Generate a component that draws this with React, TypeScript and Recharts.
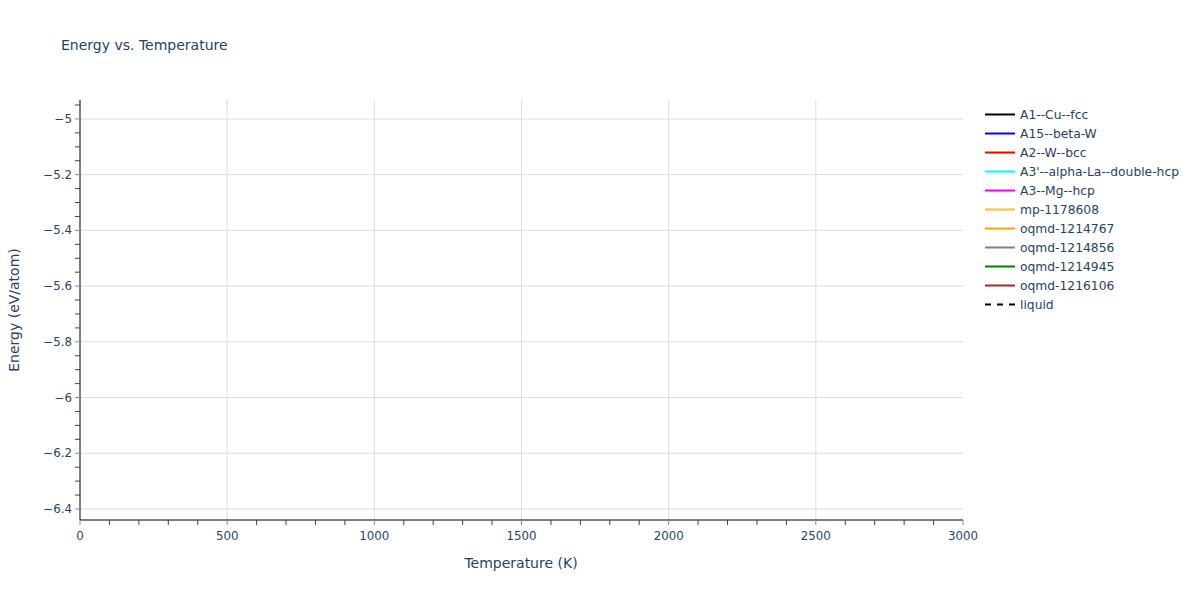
import React from 'react';
import { ComposedChart, Line, XAxis, YAxis, CartesianGrid, Legend } from 'recharts';

const seriesNames = [
  'A1--Cu--fcc',
  'A15--beta-W',
  'A2--W--bcc',
  "A3'--alpha-La--double-hcp",
  'A3--Mg--hcp',
  'mp-1178608',
  'oqmd-1214767',
  'oqmd-1214856',
  'oqmd-1214945',
  'oqmd-1216106',
  'liquid',
];
const seriesColors = [
  '#000000', '#0000ff', '#ff0000', '#00ffff', '#ff00ff', '#f0c030',
  '#ffa500', '#808080', '#008000', '#a52a2a', '#000000',
];
const seriesDashes = ['', '', '', '', '', '', '', '', '', '', '6 6'];
// No data points are visible in the reference plot
const seriesData: { T: number; E: number }[][] = seriesNames.map(() => []);

const xTicks = Array.from({ length: 31 }, (_, i) => i * 100);
const xMajor = [0, 500, 1000, 1500, 2000, 2500, 3000];
const yTicks = Array.from({ length: 30 }, (_, i) => Math.round((-6.4 + i * 0.05) * 100) / 100);
const yMajor = [-6.4, -6.2, -6, -5.8, -5.6, -5.4, -5.2, -5];
const xDomain: [number, number] = [0, 3000];
const yDomain: [number, number] = [-6.4395, -4.932];

const FONT = '"DejaVu Sans", Verdana, sans-serif';
const TXT = '#2a3f5f';

const isMajor = (arr: number[], v: number) => arr.some((m) => Math.abs(m - v) < 1e-6);
const fmt = (v: number) => (v < 0 ? '\u2212' + String(Math.abs(v)) : String(v));

const XTick = (props: any) => {
  const { x, y, payload } = props;
  const v = payload.value;
  const major = isMajor(xMajor, v);
  return (
    <g>
      <line x1={x} x2={x} y1={y} y2={y + 5} stroke={major ? '#888' : '#444'} strokeWidth={1} />
      {major && (
        <text x={x} y={y + 20} textAnchor="middle" fontSize={11.8} fontFamily={FONT} fill={TXT}>
          {fmt(v)}
        </text>
      )}
    </g>
  );
};

const YTick = (props: any) => {
  const { x, y, payload } = props;
  const v = payload.value;
  const major = isMajor(yMajor, v);
  return (
    <g>
      <line x1={x} x2={x - 5} y1={y} y2={y} stroke={major ? '#888' : '#444'} strokeWidth={1} />
      {major && (
        <text x={x - 8} y={y + 4} textAnchor="end" fontSize={11.8} fontFamily={FONT} fill={TXT}>
          {fmt(v)}
        </text>
      )}
    </g>
  );
};

const LegendContent = () => (
  <div style={{ fontFamily: FONT, fontSize: 12.3, color: TXT }}>
    {seriesNames.map((n, i) => (
      <div key={n} style={{ height: 19, display: 'flex', alignItems: 'center', whiteSpace: 'nowrap' }}>
        <svg width={36} height={19} style={{ display: 'block' }}>
          <line
            x1={1}
            x2={31}
            y1={9.5}
            y2={9.5}
            stroke={seriesColors[i]}
            strokeWidth={2}
            strokeDasharray={seriesDashes[i] || undefined}
          />
        </svg>
        <span>{n}</span>
      </div>
    ))}
  </div>
);

export default function App() {
  return (
    <div style={{ position: 'absolute', left: 0, top: 0, width: 1200, height: 600, background: '#fff' }}>
      <div
        style={{
          position: 'absolute',
          left: 61,
          top: 37,
          fontFamily: FONT,
          fontSize: 14,
          color: TXT,
          whiteSpace: 'nowrap',
        }}
      >
        Energy vs. Temperature
      </div>
      <div
        style={{
          position: 'absolute',
          left: 521,
          top: 563,
          transform: 'translate(-50%, -50%)',
          fontFamily: FONT,
          fontSize: 14,
          color: TXT,
          whiteSpace: 'nowrap',
        }}
      >
        Temperature (K)
      </div>
      <div
        style={{
          position: 'absolute',
          left: 14,
          top: 310,
          transform: 'translate(-50%, -50%) rotate(-90deg)',
          fontFamily: FONT,
          fontSize: 14,
          color: TXT,
          whiteSpace: 'nowrap',
        }}
      >
        Energy (eV/atom)
      </div>
      <ComposedChart
        width={1200}
        height={600}
        margin={{ top: 100, right: 27, bottom: 50, left: 20 }}
      >
        <CartesianGrid
          stroke="#dcdcdc"
          strokeWidth={1}
          horizontalValues={yMajor}
          verticalValues={[500, 1000, 1500, 2000, 2500]}
        />
        <XAxis
          type="number"
          dataKey="T"
          domain={xDomain}
          ticks={xTicks}
          interval={0}
          allowDataOverflow
          height={30}
          tickLine={false}
          tickSize={0}
          tickMargin={0}
          tick={<XTick />}
          axisLine={{ stroke: '#000', strokeWidth: 1 }}
        />
        <YAxis
          type="number"
          dataKey="E"
          domain={yDomain}
          ticks={yTicks}
          interval={0}
          allowDataOverflow
          width={60}
          tickLine={false}
          tickSize={0}
          tickMargin={0}
          tick={<YTick />}
          axisLine={{ stroke: '#000', strokeWidth: 1 }}
        />
        {seriesNames.map((n, i) => (
          <Line
            key={n}
            name={n}
            data={seriesData[i]}
            dataKey="E"
            stroke={seriesColors[i]}
            strokeWidth={2}
            strokeDasharray={seriesDashes[i] || undefined}
            dot={false}
            isAnimationActive={false}
          />
        ))}
        <Legend
          layout="vertical"
          verticalAlign="top"
          align="right"
          content={<LegendContent />}
          wrapperStyle={{ position: 'absolute', left: 984, top: 105, width: 210 }}
        />
      </ComposedChart>
    </div>
  );
}
